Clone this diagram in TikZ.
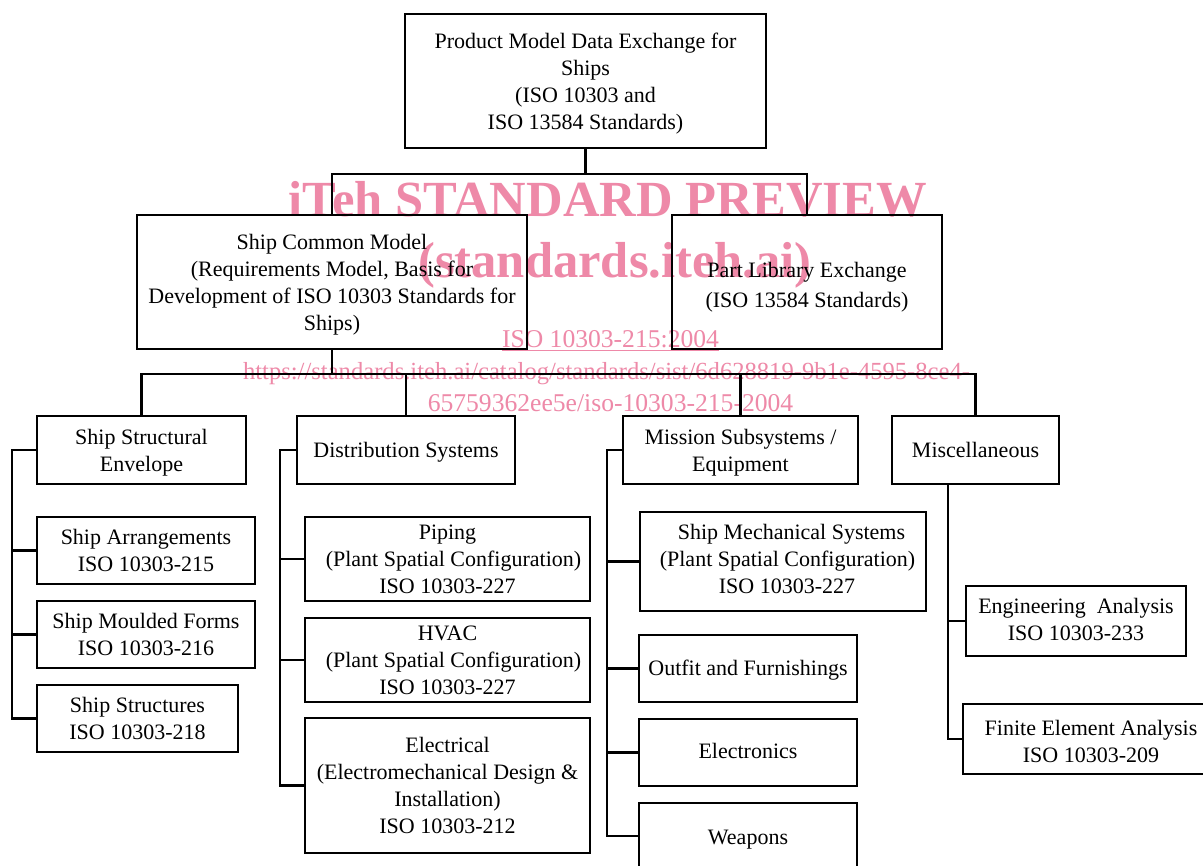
\documentclass[tikz,border=0pt]{standalone}
\usepackage{fontspec}
\setmainfont{Liberation Serif}
\definecolor{wmpink}{RGB}{238,137,168}
\newcommand\bt[2][1.2pt]{\raisebox{-#1}[\height][\depth]{\begin{tabular}{@{}c@{}}#2\end{tabular}}}
\begin{document}
\begin{tikzpicture}[x=0.5pt,y=-0.5pt,
  box/.style={draw=black, line width=1.3pt, inner sep=0pt,
    font=\fontsize{11}{13.5}\selectfont},
  thinbox/.style={box, line width=0.8pt},
  conn/.style={draw=black, line width=1.3pt, line join=miter},
  wmbig/.style={text=wmpink, inner sep=0pt, anchor=base, font=\fontsize{25.3}{25.3}\selectfont\bfseries},
  wmsmall/.style={text=wmpink, inner sep=0pt, anchor=base, font=\fontsize{12.8}{12.8}\selectfont}]
\useasboundingbox (0,0) rectangle (1203,866);
\clip (0,0) rectangle (1203,866);
\fill[white] (0,0) rectangle (1203,866);

% watermark (behind the diagram)
\node[wmbig] (wm1) at (608,217) {iTeh STANDARD PREVIEW};
\node[wmbig] (wm2) at (615,277) {(standards.iteh.ai)};
\node[wmsmall] (wm3) at (610.5,347) {\underline{ISO 10303-215:2004}};
\node[wmsmall, font=\fontsize{12.3}{12.3}\selectfont] (wm4) at (606.5,379) {https://standards.iteh.ai/catalog/standards/sist/6d628819-9b1e-4595-8ce4-};
\node[wmsmall] (wm5) at (610.5,411) {65759362ee5e/iso-10303-215-2004};

% level 1 and 2
\node[box, minimum width=180.5pt, minimum height=67pt] (top) at (585.5,81)
  {\bt[1.33pt]{Product Model Data Exchange for\\Ships\\(ISO 10303 and\\ISO 13584 Standards)}};
\node[box, minimum width=195pt, minimum height=67pt] (scm) at (332,282)
  {\bt[1.35pt]{Ship Common Model\\(Requirements Model, Basis for\\Development of ISO 10303 Standards for\\Ships)}};
\node[box, minimum width=135pt, minimum height=67pt] (plib) at (807,282)
  {\bt[2.3pt]{Part Library Exchange\\[1.5pt](ISO 13584 Standards)}};

% level 3
\node[box, minimum width=104.5pt, minimum height=34pt] (sse) at (141.5,450) {\bt[1.35pt]{Ship Structural\\Envelope}};
\node[box, minimum width=109pt, minimum height=34pt] (dist) at (406,450) {\bt[0.85pt]{Distribution Systems}};
\node[box, minimum width=117.5pt, minimum height=34pt] (miss) at (740.5,450) {\bt[1.35pt]{Mission Subsystems /\\Equipment}};
\node[thinbox, minimum width=83.5pt, minimum height=34pt] (misc) at (975.5,450) {\bt[1pt]{Miscellaneous}};

% structural column
\node[box, minimum width=109pt, minimum height=33.5pt] (sarr) at (146,550.5) {\bt[1.25pt]{Ship Arrangements\\ISO 10303-215}};
\node[box, minimum width=109pt, minimum height=33.5pt] (smf) at (146,634.5) {\bt[1.25pt]{Ship Moulded Forms\\ISO 10303-216}};
\node[box, minimum width=100.5pt, minimum height=33.5pt] (sstr) at (137.5,718.5) {\bt[1.25pt]{Ship Structures\\ISO 10303-218}};

% distribution column
\node[box, minimum width=142.5pt, minimum height=42pt] (pip) at (447.5,559)
  {\bt[1pt]{Piping\\\hspace*{6pt}(Plant Spatial Configuration)\\ISO 10303-227}};
\node[box, minimum width=142.5pt, minimum height=42pt] (hvac) at (447.5,660)
  {\bt[1pt]{HVAC\\\hspace*{6pt}(Plant Spatial Configuration)\\ISO 10303-227}};
\node[box, minimum width=142.5pt, minimum height=67.5pt] (elec) at (447.5,785.5)
  {\bt[1pt]{Electrical\\(Electromechanical Design \&\\Installation)\\ISO 10303-212}};

% mission column
\node[box, minimum width=143pt, minimum height=49.5pt] (mech) at (783,561.5)
  {\bt[-0.25pt]{\hspace*{8.5pt}Ship Mechanical Systems\\\hspace*{4.5pt}(Plant Spatial Configuration)\\\hspace*{4pt}ISO 10303-227}};
\node[box, minimum width=109pt, minimum height=33.5pt] (outf) at (748,668.5) {\bt[0.85pt]{Outfit and Furnishings}};
\node[box, minimum width=109pt, minimum height=33.5pt] (eltr) at (748,752.5) {\bt[0.5pt]{Electronics}};
\node[box, minimum width=109pt, minimum height=33pt] (weap) at (748,836) {\bt[1.35pt]{Weapons}};

% miscellaneous column
\node[thinbox, minimum width=110pt, minimum height=35pt] (eng) at (1076,621) {\bt[0.5pt]{Engineering~ Analysis\\ISO 10303-233}};
\node[thinbox, minimum width=128pt, minimum height=35pt] (fea) at (1091,739) {\bt[2.25pt]{Finite Element Analysis\\ISO 10303-209}};

% connectors level 1-2
\coordinate (b1) at (585.5,174);
\draw[conn] (top.south) -- (b1);
\draw[conn] (scm.north) |- (b1) -| (plib.north);

% connectors level 2-3
\coordinate (b2) at (332,374);
\draw[conn] (scm.south) -- (b2);
\draw[conn] (sse.north) |- (b2) -| (misc.north);
\draw[conn] (dist.north) -- (dist.north |- b2);
\draw[conn] (miss.north) -- (miss.north |- b2);

% structural spine
\coordinate (s1) at (12,450);
\draw[conn] (sse.west) -- (s1) |- (sstr.west);
\draw[conn] (sarr.west) -- (sarr.west -| s1);
\draw[conn] (smf.west) -- (smf.west -| s1);

% distribution spine
\coordinate (s2) at (280,450);
\draw[conn] (dist.west) -- (s2) |- (elec.west);
\draw[conn] (pip.west) -- (pip.west -| s2);
\draw[conn] (hvac.west) -- (hvac.west -| s2);

% mission spine
\coordinate (s3) at (607,450);
\draw[conn] (miss.west) -- (s3) |- (weap.west);
\draw[conn] (mech.west) -- (mech.west -| s3);
\draw[conn] (outf.west) -- (outf.west -| s3);
\draw[conn] (eltr.west) -- (eltr.west -| s3);

% miscellaneous spine
\coordinate (s4) at (948,484);
\draw[conn] (s4) |- (fea.west);
\draw[conn] (eng.west) -- (eng.west -| s4);
\end{tikzpicture}
\end{document}
